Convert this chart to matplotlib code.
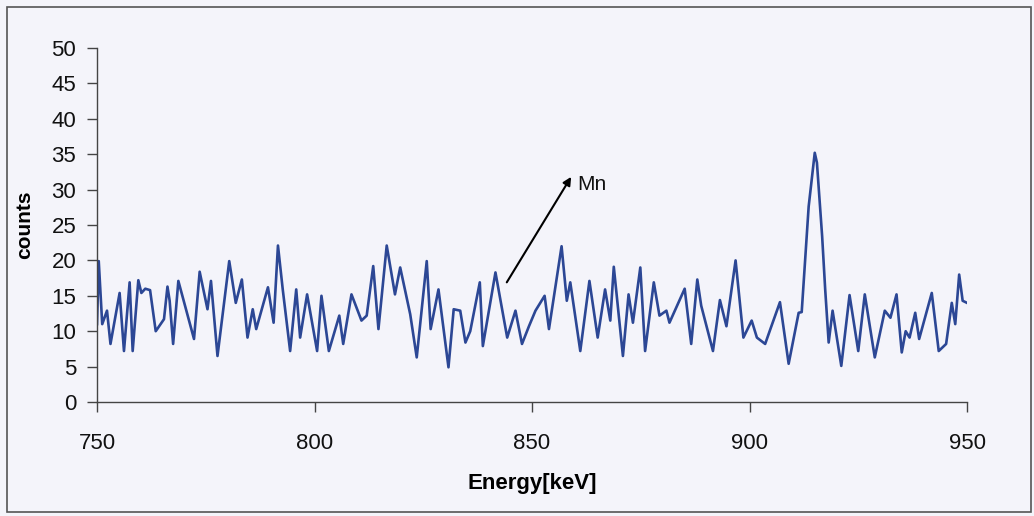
import matplotlib
matplotlib.use("Agg")
import matplotlib.pyplot as plt
from matplotlib.patches import Rectangle

plt.rcParams['font.family'] = ['Liberation Sans', 'DejaVu Sans']

# spectrum (peaks and valleys)
energy = [750.0, 750.4, 751.2, 752.3, 753.1, 755.2, 756.2, 757.5, 758.2, 759.5,
          760.2, 761.1, 762.2, 763.5, 765.4, 766.2, 766.7, 767.5, 768.7, 772.3,
          773.6, 775.4, 776.2, 777.7, 780.4, 781.9, 783.3, 784.6, 785.8, 786.6,
          789.3, 790.6, 791.6, 792.7, 794.4, 795.8, 796.7, 798.3, 800.6, 801.6,
          803.3, 805.7, 806.6, 808.5, 810.8, 812.0, 813.5, 814.7, 816.6, 818.5,
          819.7, 822.0, 823.5, 825.8, 826.7, 828.5, 830.8, 832.0, 833.5, 834.7,
          835.8, 838.0, 838.7, 841.6, 844.3, 846.2, 847.7, 849.3, 850.8, 852.9,
          853.9, 856.8, 858.0, 858.8, 861.1, 863.2, 865.1, 866.8, 868.0, 868.8,
          870.9, 872.2, 873.2, 874.9, 876.0, 878.0, 879.3, 880.9, 881.6, 885.1,
          886.6, 888.0, 888.9, 891.6, 893.2, 894.7, 896.8, 898.6, 900.5, 901.7,
          903.6, 904.8, 907.0, 909.0, 911.3, 912.0, 913.6, 915.0, 915.5, 916.7,
          917.4, 918.2, 919.1, 921.1, 923.0, 925.0, 926.5, 928.8, 931.1, 932.4,
          933.8, 935.0, 935.9, 936.8, 938.1, 939.0, 941.9, 943.5, 945.2, 946.5,
          947.3, 948.2, 949.0, 950.0]
counts = [11.0, 19.9, 11.0, 12.9, 8.2, 15.4, 7.2, 16.9, 7.2, 17.2,
          15.4, 16.0, 15.8, 10.0, 11.7, 16.3, 14.3, 8.2, 17.1, 8.9,
          18.4, 13.1, 17.1, 6.5, 19.9, 14.0, 17.3, 9.1, 13.1, 10.3,
          16.2, 11.2, 22.1, 15.9, 7.2, 15.9, 9.1, 15.2, 7.2, 15.0,
          7.2, 12.2, 8.2, 15.2, 11.5, 12.2, 19.2, 10.3, 22.1, 15.2,
          19.0, 12.4, 6.3, 19.9, 10.3, 15.9, 4.9, 13.1, 12.9, 8.4,
          10.0, 16.9, 7.9, 18.3, 9.1, 12.9, 8.2, 10.7, 12.9, 15.0,
          10.3, 22.0, 14.3, 16.9, 7.2, 17.1, 9.1, 15.9, 11.5, 19.1,
          6.5, 15.2, 11.2, 19.0, 7.2, 16.9, 12.2, 12.9, 11.2, 16.0,
          8.2, 17.3, 13.6, 7.2, 14.4, 10.7, 20.0, 9.1, 11.5, 9.1,
          8.2, 10.3, 14.1, 5.4, 12.6, 12.7, 27.6, 35.2, 33.8, 23.4,
          15.9, 8.4, 12.9, 5.1, 15.1, 7.2, 15.2, 6.3, 12.9, 11.9,
          15.2, 7.0, 10.0, 9.1, 12.6, 8.9, 15.4, 7.2, 8.2, 14.0,
          11.0, 18.0, 14.3, 14.0]

x_ticks = [750, 800, 850, 900, 950]
y_ticks = [0, 5, 10, 15, 20, 25, 30, 35, 40, 45, 50]

bg = '#f4f4fa'
fig = plt.figure(figsize=(10.34, 5.16), dpi=100, facecolor=bg)
# outer chart border
fig.patches.append(Rectangle((7 / 1034, 4 / 516), 1024 / 1034, 505 / 516,
                             transform=fig.transFigure, fill=False,
                             edgecolor='#555555', linewidth=1.2))

ax = fig.add_axes([97 / 1034, 1 - 402 / 516, 870 / 1034, 354 / 516])
ax.set_facecolor(bg)
ax.plot(energy, counts, color='#2c4795', linewidth=1.9,
        solid_joinstyle='round')

ax.set_xlim(750, 950)
ax.set_ylim(0, 50)
ax.set_xticks(x_ticks)
ax.set_yticks(y_ticks)
ax.spines['top'].set_visible(False)
ax.spines['right'].set_visible(False)
for s in ('left', 'bottom'):
    ax.spines[s].set_color('#444444')
    ax.spines[s].set_linewidth(1.0)
ax.tick_params(axis='both', colors='#444444', labelcolor='#111111',
               labelsize=16, length=7, width=1.0)
ax.tick_params(axis='x', pad=15)
ax.tick_params(axis='y', pad=8)

ax.set_xlabel('Energy[keV]', fontsize=16, fontweight='bold', labelpad=14)
ax.set_ylabel('counts', fontsize=15, fontweight='bold', labelpad=12)

ax.annotate('', xy=(859.0, 31.8), xytext=(844.2, 16.9),
            arrowprops=dict(arrowstyle='-|>', color='black', lw=1.5,
                            mutation_scale=12, shrinkA=0, shrinkB=0))
ax.text(860.4, 30.7, 'Mn', fontsize=15, va='center', ha='left', color='#111111')

fig.savefig('out.png', dpi=100, facecolor=bg)
